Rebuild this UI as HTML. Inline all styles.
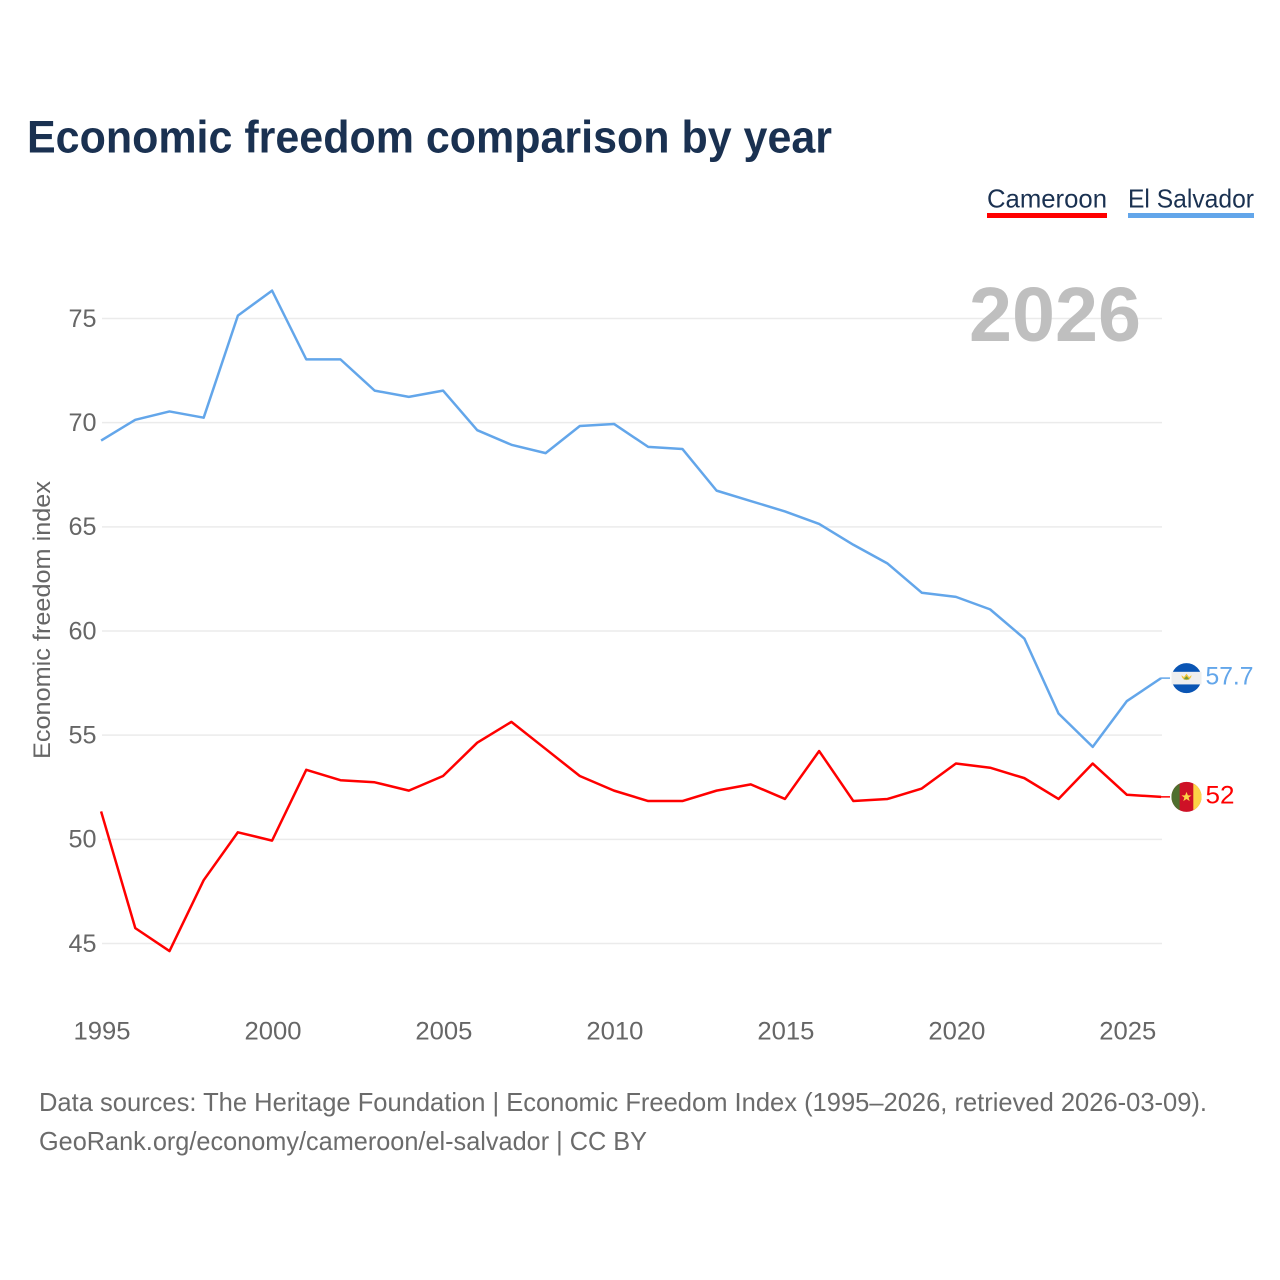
<!DOCTYPE html>
<html lang="en">
<head>
<meta charset="utf-8">
<title>Economic freedom comparison by year</title>
<style>
html,body{margin:0;padding:0;background:#fff;}
svg{display:block;font-family:"Liberation Sans",sans-serif;}
</style>
</head>
<body>
<svg id="chart" width="1280" height="1280" viewBox="0 0 1280 1280" xmlns="http://www.w3.org/2000/svg">
  <rect width="1280" height="1280" fill="#fff"/>
  <text x="27" y="152.5" font-size="45" font-weight="700" fill="#1a3151" textLength="805" lengthAdjust="spacingAndGlyphs">Economic freedom comparison by year</text>

  <g id="grid"></g>
  <g id="yticks"></g>
  <g id="xticks"></g>
  <text transform="translate(50,759) rotate(-90)" font-size="24" fill="#666" textLength="278" lengthAdjust="spacingAndGlyphs">Economic freedom index</text>

  <text x="969" y="341" font-size="77" font-weight="700" fill="#bfbfbf" textLength="172" lengthAdjust="spacingAndGlyphs">2026</text>

  <g>
    <text x="987" y="207.5" font-size="26" fill="#1a3151" textLength="120" lengthAdjust="spacingAndGlyphs">Cameroon</text>
    <rect x="987" y="213" width="120" height="5" fill="#ff0000"/>
  </g>
  <g>
    <text x="1128" y="207.5" font-size="26" fill="#1a3151" textLength="126" lengthAdjust="spacingAndGlyphs">El Salvador</text>
    <rect x="1128" y="213" width="126" height="5" fill="#63a6ea"/>
  </g>

  <g id="series"></g>
  <g id="ends"></g>

  <text x="39" y="1111" font-size="26" fill="#6b6b6b" textLength="1168" lengthAdjust="spacingAndGlyphs">Data sources: The Heritage Foundation | Economic Freedom Index (1995–2026, retrieved 2026-03-09).</text>
  <text x="39" y="1150" font-size="26" fill="#6b6b6b" textLength="608" lengthAdjust="spacingAndGlyphs">GeoRank.org/economy/cameroon/el-salvador | CC BY</text>
</svg>
<script>
const years = [1995,1996,1997,1998,1999,2000,2001,2002,2003,2004,2005,2006,2007,2008,2009,2010,2011,2012,2013,2014,2015,2016,2017,2018,2019,2020,2021,2022,2023,2024,2025,2026];
const cameroon = [51.3,45.7,44.6,48,50.3,49.9,53.3,52.8,52.7,52.3,53,54.6,55.6,54.3,53,52.3,51.8,51.8,52.3,52.6,51.9,54.2,51.8,51.9,52.4,53.6,53.4,52.9,51.9,53.6,52.1,52];
const elSalvador = [69.1,70.1,70.5,70.2,75.1,76.3,73,73,71.5,71.2,71.5,69.6,68.9,68.5,69.8,69.9,68.8,68.7,66.7,66.2,65.7,65.1,64.1,63.2,61.8,61.6,61,59.6,56,54.4,56.6,57.7];
const yTickValues = [45,50,55,60,65,70,75];
const xTickValues = [1995,2000,2005,2010,2015,2020,2025];

const NS = 'http://www.w3.org/2000/svg';
const xScale = v => 102 + (v - 1995) * (1162 - 102) / 31;
const yScale = v => 943.5 - (v - 45) * (943.5 - 318.5) / 30;
const lineX = v => xScale(v) - 0.9;
const lineY = v => yScale(v) - 0.8;

function make(tag, attrs, parent, text) {
  const el = document.createElementNS(NS, tag);
  for (const k in attrs) el.setAttribute(k, attrs[k]);
  if (text !== undefined) el.textContent = text;
  parent.appendChild(el);
  return el;
}

const grid = document.getElementById('grid');
const yticks = document.getElementById('yticks');
const xticks = document.getElementById('xticks');
const series = document.getElementById('series');
const ends = document.getElementById('ends');

yTickValues.forEach(v => {
  const line = make('line', {x1: 102, x2: 1162, y1: yScale(v), y2: yScale(v), stroke: '#ebebeb', 'stroke-width': 1.5}, grid);
  
  
  const label = make('text', {x: 96.5, y: yScale(v) + 8.3, 'text-anchor': 'end', 'font-size': 25, fill: '#666', textLength: 28, lengthAdjust: 'spacingAndGlyphs'}, yticks, String(v));
  
  
});

xTickValues.forEach(v => {
  const label = make('text', {x: xScale(v), y: 1039.5, 'text-anchor': 'middle', 'font-size': 25, fill: '#666', textLength: 57, lengthAdjust: 'spacingAndGlyphs'}, xticks, String(v));
  
  
});

function drawLine(values, color, name) {
  const d = values.map((v, i) => (i ? 'L' : 'M') + lineX(years[i]).toFixed(2) + ' ' + lineY(v).toFixed(2)).join(' ');
  const path = make('path', {d: d, fill: 'none', stroke: color, 'stroke-width': 2.5, 'stroke-linejoin': 'round'}, series);
  
  
}
drawLine(elSalvador, '#63a6ea', 'el-salvador');
drawLine(cameroon, '#ff0000', 'cameroon');

function endLabel(values, color, name) {
  const last = values[values.length - 1];
  const y = lineY(last);
  const group = make('g', {}, ends);
  
  
  const lead = make('line', {x1: 1161, x2: 1170, y1: y, y2: y, stroke: color, 'stroke-width': 1.5}, group);
  
  
  const flag = make('g', {transform: 'translate(1186.5,' + y.toFixed(2) + ')'}, group);
  
  
  if (name === 'el-salvador') {
    make('circle', {r: 15, fill: '#0a55b4'}, flag);
    make('rect', {x: -15, y: -6.3, width: 30, height: 12.6, fill: '#efefef'}, flag);
    make('path', {d: 'M-5 -3 A5 5 0 1 0 5 -3 L2.5 -1 L0 -4.5 L-2.5 -1 Z', fill: '#f1c63a'}, flag);
    make('path', {d: 'M-3 1.2 H3 L0 -2 Z', fill: '#6f9a3c'}, flag);
  } else {
    make('circle', {r: 15, fill: '#ce1126'}, flag);
    make('path', {d: 'M-6.8 -13.4 A15 15 0 0 0 -6.8 13.4 Z', fill: '#4f6f2e'}, flag);
    make('path', {d: 'M6.8 -13.4 A15 15 0 0 1 6.8 13.4 Z', fill: '#fcd447'}, flag);
    make('path', {d: 'M0 -5 L1.4 -1.5 L5 -1.5 L2.1 0.7 L3.2 4.3 L0 2.1 L-3.2 4.3 L-2.1 0.7 L-5 -1.5 L-1.4 -1.5 Z', fill: '#fcd447'}, flag);
  }
  const text = make('text', {x: 1205.5, y: y + 6.6, 'font-size': 25, fill: color, textLength: String(last).length > 2 ? 48 : 29, lengthAdjust: 'spacingAndGlyphs'}, group, String(last));
  
  
}
endLabel(elSalvador, '#63a6ea', 'el-salvador');
endLabel(cameroon, '#ff0000', 'cameroon');
</script>
</body>
</html>
